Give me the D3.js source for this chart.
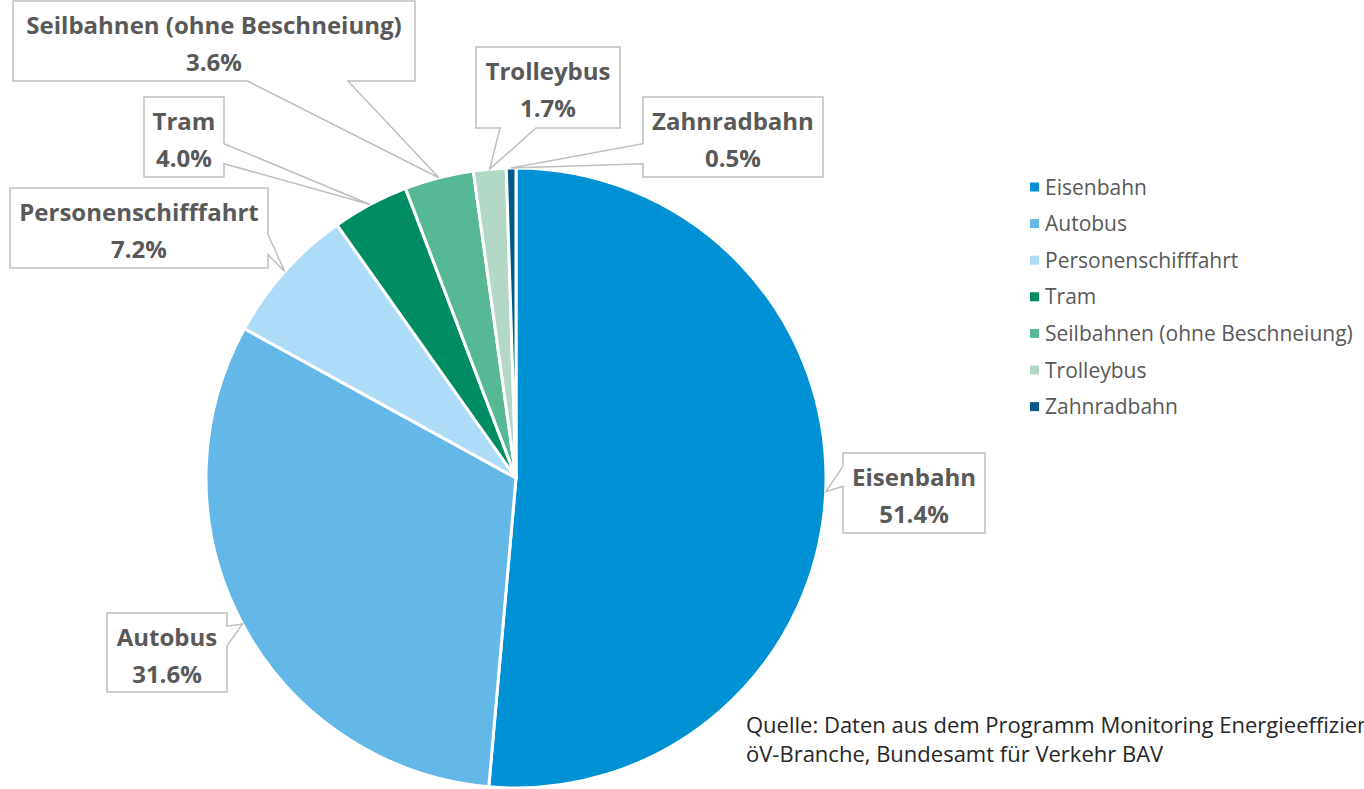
<!doctype html>
<html lang="de">
<head>
<meta charset="utf-8">
<title>Energieverbrauch öV nach Verkehrsmittel</title>
<script src="https://cdn.jsdelivr.net/npm/d3@7"></script>
<style>
  html, body { margin: 0; background: #fff; }
  svg { display: block; font-family: "Open Sans", sans-serif; }
</style>
</head>
<body>
<svg id="chart" width="1364" height="789"></svg>
<script>
// shares in percent
const categories = ["Eisenbahn", "Autobus", "Personenschifffahrt", "Tram",
                    "Seilbahnen (ohne Beschneiung)", "Trolleybus", "Zahnradbahn"];
const shares = [51.4, 31.6, 7.2, 4.0, 3.6, 1.7, 0.5];
const colors = ["#0091d4", "#63b8e8", "#acdcf8", "#008c63", "#56b894", "#b3d9c6", "#005a87"];

// callout boxes (x, y, w, h) placed like the original
const boxes = {
  "Eisenbahn": [843, 453, 142, 80],
  "Autobus": [107, 613, 120, 79],
  "Personenschifffahrt": [10, 188, 258, 80],
  "Tram": [144, 97, 80, 80],
  "Seilbahnen (ohne Beschneiung)": [13, 1, 402, 80],
  "Trolleybus": [476, 47, 144, 81],
  "Zahnradbahn": [643, 97, 180, 80]
};

const cx = 516, cy = 478, r = 310;
const svg = d3.select("#chart");

const data = categories.map((c, i) => ({ name: c, value: shares[i], color: colors[i] }));
const pie = d3.pie().value(d => d.value).sort(null);
const arcs = pie(data);
const arc = d3.arc().innerRadius(0).outerRadius(r);

const g = svg.append("g").attr("transform", `translate(${cx},${cy})`);
g.selectAll("path")
  .data(arcs)
  .join("path")
    .attr("d", arc)
    .attr("fill", d => d.data.color)
    .attr("stroke", "#fff")
    .attr("stroke-width", 3)
    .attr("stroke-linejoin", "round");

// wedge callout like Excel's wedgeRectCallout
function callout(b, tx, ty) {
  const [x, y, w, h] = b;
  const dx = tx - (x + w / 2), dy = ty - (y + h / 2);
  let pts;
  if (Math.abs(dx) * h > Math.abs(dy) * w) {
    const a = dy > 0 ? 7 / 12 : 2 / 12, c = dy > 0 ? 10 / 12 : 5 / 12;
    if (dx > 0) {
      pts = [[x, y], [x + w, y], [x + w, y + h * a], [tx, ty], [x + w, y + h * c], [x + w, y + h], [x, y + h]];
    } else {
      pts = [[x, y], [x + w, y], [x + w, y + h], [x, y + h], [x, y + h * c], [tx, ty], [x, y + h * a]];
    }
  } else {
    const a = dx > 0 ? 7 / 12 : 2 / 12, c = dx > 0 ? 10 / 12 : 5 / 12;
    if (dy > 0) {
      pts = [[x, y], [x + w, y], [x + w, y + h], [x + w * c, y + h], [tx, ty], [x + w * a, y + h], [x, y + h]];
    } else {
      pts = [[x, y], [x + w * a, y], [tx, ty], [x + w * c, y], [x + w, y], [x + w, y + h], [x, y + h]];
    }
  }
  return "M" + pts.map(p => p.join(",")).join("L") + "Z";
}

const labels = svg.append("g");
arcs.forEach(d => {
  const b = boxes[d.data.name];
  const mid = (d.startAngle + d.endAngle) / 2;
  const tx = cx + r * Math.sin(mid), ty = cy - r * Math.cos(mid);
  const lg = labels.append("g");
  lg.append("path")
    .attr("d", callout(b, tx, ty))
    .attr("fill", "#fff")
    .attr("stroke", "#bfbfbf")
    .attr("stroke-width", 1.5);
  const t = lg.append("text")
    .attr("text-anchor", "middle")
    .attr("font-weight", "bold")
    .attr("font-size", 24)
    .attr("fill", "#595959");
  t.append("tspan").attr("x", b[0] + b[2] / 2).attr("y", b[1] + 33).text(d.data.name);
  t.append("tspan").attr("x", b[0] + b[2] / 2).attr("y", b[1] + 70).text(d3.format(".1f")(d.data.value) + "%");
});

// legend
const legend = svg.append("g").attr("transform", "translate(1030,187)");
const li = legend.selectAll("g")
  .data(data)
  .join("g")
    .attr("transform", (d, i) => `translate(0,${i * 36.6})`);
li.append("rect")
  .attr("x", 0).attr("y", -4.5)
  .attr("width", 9).attr("height", 9)
  .attr("fill", d => d.color);
li.append("text")
  .attr("x", 15).attr("y", 7.5)
  .attr("font-size", 21)
  .attr("fill", "#595959")
  .text(d => d.name);

// source note (runs past the right edge like the original)
const src = svg.append("text")
  .attr("font-size", 22)
  .attr("fill", "#262626");
src.append("tspan").attr("x", 746).attr("y", 733)
  .text("Quelle: Daten aus dem Programm Monitoring Energieeffizienz der");
src.append("tspan").attr("x", 746).attr("y", 762)
  .text("öV-Branche, Bundesamt für Verkehr BAV");
</script>
</body>
</html>
